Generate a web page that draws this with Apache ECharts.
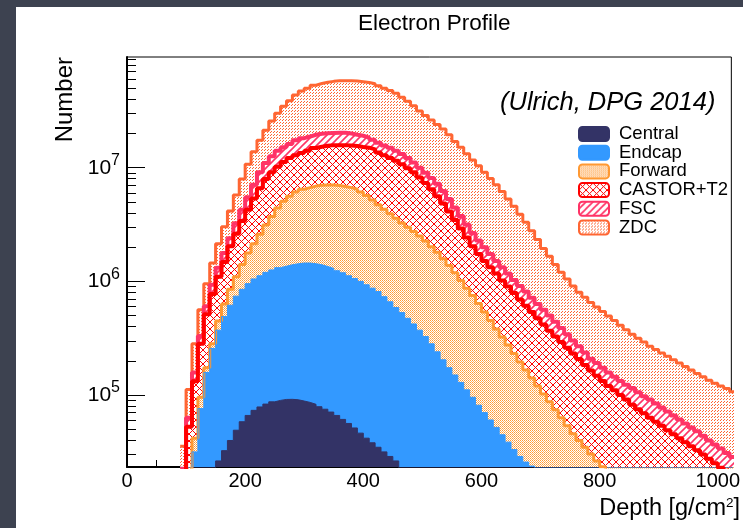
<!DOCTYPE html>
<html>
<head>
<meta charset="utf-8">
<script src="https://cdn.jsdelivr.net/npm/echarts@6/dist/echarts.min.js"></script>
<style>
html,body{margin:0;padding:0;background:#3d4250;width:743px;height:528px;overflow:hidden;}
#panel{position:absolute;left:16px;top:7px;width:727px;height:521px;background:#fff;}
#c{position:absolute;left:0;top:0;width:743px;height:528px;}
</style>
</head>
<body>
<div id="panel"></div>
<div id="c"></div>
<script>
// ---- data: bin lower edges start at binStart, width binWidth (g/cm^2) ----
const binStart = 90;
const binWidth = 10;

const central = [
  0, 0, 0, 0, 0, 0, 2.63e4, 3.24e4, 3.98e4, 4.90e4,
  5.82e4, 6.61e4, 7.33e4, 7.85e4, 8.32e4, 8.71e4, 8.97e4, 9.14e4, 9.16e4, 9.08e4,
  8.85e4, 8.61e4, 8.28e4, 7.89e4, 7.50e4, 7.08e4, 6.61e4, 6.10e4, 5.62e4, 5.13e4,
  4.62e4, 4.17e4, 3.80e4, 3.47e4, 3.16e4, 2.88e4, 2.63e4, 0, 0, 0,
  0, 0, 0, 0, 0, 0, 0, 0, 0, 0,
  0, 0, 0, 0, 0, 0, 0, 0, 0, 0,
  0, 0, 0, 0, 0, 0, 0, 0, 0, 0,
  0, 0, 0, 0, 0, 0, 0, 0, 0, 0,
  0, 0, 0, 0, 0, 0, 0, 0, 0, 0,
  0, 0, 0, 0
];
const endcap = [
  0, 0, 3.16e4, 7.59e4, 1.58e5, 2.57e5, 3.72e5, 4.90e5, 6.17e5, 7.41e5,
  8.51e5, 9.55e5, 1.05e6, 1.12e6, 1.20e6, 1.26e6, 1.32e6, 1.36e6, 1.40e6, 1.43e6,
  1.45e6, 1.45e6, 1.43e6, 1.40e6, 1.35e6, 1.30e6, 1.24e6, 1.19e6, 1.12e6, 1.06e6,
  1.00e6, 9.33e5, 8.71e5, 8.13e5, 7.33e5, 6.61e5, 5.89e5, 5.31e5, 4.73e5, 4.22e5,
  3.72e5, 3.27e5, 2.82e5, 2.40e5, 2.04e5, 1.74e5, 1.50e5, 1.29e5, 1.11e5, 9.55e4,
  8.13e4, 7.00e4, 6.03e4, 5.19e4, 4.47e4, 3.85e4, 3.31e4, 2.88e4, 2.57e4, 2.37e4,
  0, 0, 0, 0, 0, 0, 0, 0, 0, 0,
  0, 0, 0, 0, 0, 0, 0, 0, 0, 0,
  0, 0, 0, 0, 0, 0, 0, 0, 0, 0,
  0, 0, 0, 0
];
const forward = [
  0, 1.78e4, 4.17e4, 9.55e4, 1.74e5, 2.82e5, 4.47e5, 6.31e5, 8.51e5, 1.10e6,
  1.41e6, 1.78e6, 2.14e6, 2.60e6, 3.13e6, 3.72e6, 4.42e6, 5.07e6, 5.62e6, 6.10e6,
  6.46e6, 6.68e6, 6.89e6, 7.00e6, 7.05e6, 7.03e6, 6.97e6, 6.84e6, 6.68e6, 6.46e6,
  6.10e6, 5.69e6, 5.19e6, 4.73e6, 4.32e6, 3.94e6, 3.59e6, 3.27e6, 2.99e6, 2.75e6,
  2.51e6, 2.26e6, 2.02e6, 1.80e6, 1.58e6, 1.38e6, 1.19e6, 1.02e6, 8.71e5, 7.50e5,
  6.38e5, 5.37e5, 4.52e5, 3.80e5, 3.24e5, 2.75e5, 2.32e5, 1.95e5, 1.66e5, 1.41e5,
  1.20e5, 1.02e5, 8.71e4, 7.41e4, 6.31e4, 5.37e4, 4.57e4, 3.98e4, 3.47e4, 3.02e4,
  2.63e4, 2.34e4, 2.04e4, 1.78e4, 0, 0, 0, 0, 0, 0,
  0, 0, 0, 0, 0, 0, 0, 0, 0, 0,
  0, 0, 0, 0
];
const castor = [
  2.0e4, 5.25e4, 1.32e5, 2.82e5, 5.13e5, 7.76e5, 1.10e6, 1.48e6, 2.04e6, 2.63e6,
  3.39e6, 4.27e6, 5.37e6, 6.61e6, 7.94e6, 9.12e6, 1.02e7, 1.12e7, 1.22e7, 1.29e7,
  1.35e7, 1.41e7, 1.49e7, 1.53e7, 1.56e7, 1.58e7, 1.58e7, 1.58e7, 1.57e7, 1.55e7,
  1.52e7, 1.50e7, 1.45e7, 1.36e7, 1.29e7, 1.22e7, 1.15e7, 1.07e7, 9.89e6, 9.12e6,
  8.22e6, 7.33e6, 6.46e6, 5.62e6, 4.84e6, 4.12e6, 3.47e6, 2.92e6, 2.43e6, 2.04e6,
  1.74e6, 1.51e6, 1.33e6, 1.17e6, 1.02e6, 9.02e5, 7.89e5, 6.92e5, 6.10e5, 5.37e5,
  4.73e5, 4.17e5, 3.67e5, 3.27e5, 2.92e5, 2.60e5, 2.32e5, 2.07e5, 1.84e5, 1.64e5,
  1.48e5, 1.33e5, 1.20e5, 1.10e5, 1.00e5, 9.12e4, 8.22e4, 7.50e4, 6.92e4, 6.31e4,
  5.82e4, 5.37e4, 4.90e4, 4.52e4, 4.17e4, 3.85e4, 3.55e4, 3.27e4, 2.99e4, 2.75e4,
  2.51e4, 2.29e4, 2.09e4, 1.91e4
];
const fsc = [
  2.24e4, 6.31e4, 1.58e5, 3.31e5, 6.03e5, 9.33e5, 1.32e6, 1.78e6, 2.40e6, 3.24e6,
  4.27e6, 5.50e6, 7.08e6, 9.12e6, 1.10e7, 1.26e7, 1.41e7, 1.51e7, 1.62e7, 1.74e7,
  1.82e7, 1.88e7, 1.95e7, 1.99e7, 2.01e7, 2.02e7, 2.03e7, 2.03e7, 2.00e7, 1.95e7,
  1.91e7, 1.84e7, 1.76e7, 1.66e7, 1.57e7, 1.50e7, 1.41e7, 1.32e7, 1.22e7, 1.11e7,
  1.00e7, 9.02e6, 8.13e6, 7.24e6, 6.24e6, 5.31e6, 4.47e6, 3.76e6, 3.16e6, 2.66e6,
  2.29e6, 2.00e6, 1.74e6, 1.51e6, 1.33e6, 1.17e6, 1.03e6, 9.12e5, 8.13e5, 7.16e5,
  6.31e5, 5.62e5, 5.01e5, 4.42e5, 3.89e5, 3.43e5, 3.02e5, 2.69e5, 2.37e5, 2.09e5,
  1.91e5, 1.74e5, 1.58e5, 1.45e5, 1.33e5, 1.23e5, 1.15e5, 1.06e5, 9.77e4, 9.12e4,
  8.41e4, 7.76e4, 7.16e4, 6.61e4, 6.10e4, 5.62e4, 5.19e4, 4.79e4, 4.37e4, 3.98e4,
  3.67e4, 3.39e4, 3.09e4, 2.85e4
];
const zdc = [
  3.55e4, 1.12e5, 2.82e5, 5.62e5, 9.55e5, 1.45e6, 2.14e6, 3.02e6, 4.17e6, 5.75e6,
  7.94e6, 1.07e7, 1.38e7, 1.74e7, 2.14e7, 2.57e7, 3.02e7, 3.47e7, 3.89e7, 4.37e7,
  4.73e7, 5.01e7, 5.31e7, 5.50e7, 5.65e7, 5.75e7, 5.82e7, 5.83e7, 5.82e7, 5.78e7,
  5.71e7, 5.62e7, 5.47e7, 5.25e7, 5.01e7, 4.79e7, 4.52e7, 4.17e7, 3.85e7, 3.51e7,
  3.16e7, 2.88e7, 2.63e7, 2.40e7, 2.19e7, 1.95e7, 1.70e7, 1.51e7, 1.33e7, 1.17e7,
  1.04e7, 9.12e6, 8.04e6, 7.08e6, 6.17e6, 5.31e6, 4.57e6, 3.89e6, 3.31e6, 2.79e6,
  2.34e6, 1.95e6, 1.66e6, 1.41e6, 1.20e6, 1.05e6, 9.12e5, 8.04e5, 7.24e5, 6.53e5,
  5.96e5, 5.43e5, 4.95e5, 4.52e5, 4.12e5, 3.76e5, 3.43e5, 3.16e5, 2.92e5, 2.69e5,
  2.51e5, 2.34e5, 2.19e5, 2.04e5, 1.91e5, 1.78e5, 1.66e5, 1.55e5, 1.45e5, 1.35e5,
  1.27e5, 1.20e5, 1.14e5, 1.07e5
];

const seriesNames = ['Central', 'Endcap', 'Forward', 'CASTOR+T2', 'FSC', 'ZDC'];
const xMajorTicks = [0, 200, 400, 600, 800, 1000];
const xMinorTicks = [50, 100, 150, 250, 300, 350, 450, 500, 550, 650, 700, 750, 850, 900, 950];
const yMajorTicks = [1e5, 1e6, 1e7];
const yMinorTicks = [3e4, 4e4, 5e4, 6e4, 7e4, 8e4, 9e4,
  2e5, 3e5, 4e5, 5e5, 6e5, 7e5, 8e5, 9e5,
  2e6, 3e6, 4e6, 5e6, 6e6, 7e6, 8e6, 9e6,
  2e7, 3e7, 4e7, 5e7, 6e7, 7e7, 8e7, 9e7];
const xMin = 0, xMax = 1023;
const yMin = 2.326e4, yMax = 9.42e7;

// ---- styling ----
const FONT = '"Liberation Sans", Arial, Helvetica, sans-serif';
const COL = {
  central: '#333366', endcap: '#3399ff', forward: '#ff9933',
  castor: '#ff0000', fsc: '#ff3366', zdc: '#ff6633'
};

function makePattern(kind, color, color2) {
  const c = document.createElement('canvas');
  const s = kind === 'dots' ? 3 : kind === 'checker' ? 2 : 7;
  c.width = s; c.height = s;
  const g = c.getContext('2d');
  g.fillStyle = '#ffffff'; g.fillRect(0, 0, s, s);
  g.fillStyle = color; g.strokeStyle = color;
  if (kind === 'dots') {
    g.fillRect(0, 0, 1, 1); g.fillRect(1, 2, 1, 1);
  } else if (kind === 'checker') {
    g.fillRect(0, 0, 1, 1);
    g.fillStyle = color2; g.fillRect(1, 1, 1, 1);
  } else if (kind === 'hatch') {
    g.lineWidth = 1.6;
    g.beginPath();
    g.moveTo(0, s); g.lineTo(s, 0);
    g.moveTo(-2, 2); g.lineTo(2, -2);
    g.moveTo(s - 2, s + 2); g.lineTo(s + 2, s - 2);
    g.stroke();
  } else if (kind === 'cross') {
    g.lineWidth = 1;
    g.beginPath();
    g.moveTo(0, s); g.lineTo(s, 0);
    g.moveTo(0, 0); g.lineTo(s, s);
    g.stroke();
  }
  return { image: c, repeat: 'repeat' };
}

const FILL = {
  central: COL.central,
  endcap: COL.endcap,
  forward: makePattern('checker', COL.forward, '#ffb366'),
  castor: makePattern('cross', COL.castor),
  fsc: makePattern('hatch', COL.fsc),
  zdc: makePattern('dots', COL.zdc)
};

function toPoints(vals) {
  const pts = [];
  const below = Math.log10(yMin) - 1.5;
  for (let i = 0; i < vals.length; i++) {
    pts.push([binStart + i * binWidth, vals[i] > 0 ? Math.log10(vals[i]) : below]);
  }
  const last = vals[vals.length - 1];
  pts.push([binStart + vals.length * binWidth, last > 0 ? Math.log10(last) : below]);
  return pts;
}

function mkSeries(name, vals, color, width, fill) {
  return {
    type: 'line', name: name, data: toPoints(vals), step: 'end',
    symbol: 'none', showSymbol: false, clip: true, silent: true,
    lineStyle: { color: color, width: width },
    itemStyle: { color: color },
    areaStyle: { color: fill, opacity: 1, origin: 'start' },
    emphasis: { disabled: true }
  };
}

const chart = echarts.init(document.getElementById('c'), null, { renderer: 'canvas' });

const legendStyle = {
  'Central': { fill: FILL.central, stroke: COL.central },
  'Endcap': { fill: FILL.endcap, stroke: COL.endcap },
  'Forward': { fill: FILL.forward, stroke: COL.forward },
  'CASTOR+T2': { fill: FILL.castor, stroke: COL.castor },
  'FSC': { fill: FILL.fsc, stroke: COL.fsc },
  'ZDC': { fill: FILL.zdc, stroke: COL.zdc }
};

const option = {
  animation: false,
  backgroundColor: 'transparent',
  textStyle: { fontFamily: FONT },
  title: [
    { text: 'Electron Profile', left: 358, top: 12.5, padding: 0,
      textStyle: { fontSize: 22.5, lineHeight: 22.5, fontWeight: 'normal', color: '#000', fontFamily: FONT } },
    { text: '(Ulrich, DPG 2014)', left: 500, top: 90, padding: 0,
      textStyle: { fontSize: 25.5, lineHeight: 25.5, fontWeight: 'normal', fontStyle: 'italic', color: '#000', fontFamily: FONT } },
    { text: '{a|Depth [g/cm}{s|2}{a|]}', right: 3, top: 496, padding: 0,
      textStyle: { fontWeight: 'normal', rich: {
        a: { fontSize: 23.5, lineHeight: 26, fontWeight: 'normal', color: '#000', fontFamily: FONT },
        s: { fontSize: 13.5, lineHeight: 20, fontWeight: 'normal', verticalAlign: 'top', color: '#000', fontFamily: FONT }
      } } }
  ],
  graphic: [
    { type: 'text', x: 65.7, y: 57, rotation: Math.PI / 2, silent: true,
      style: { text: 'Number', fontSize: 24, fontFamily: FONT, fill: '#000',
        align: 'right', verticalAlign: 'middle', textAlign: 'right', textVerticalAlign: 'middle' } }
  ],
  legend: {
    orient: 'vertical', left: 563, top: 122.5, padding: [2, 5, 4, 15],
    itemWidth: 30, itemHeight: 14, itemGap: -0.3,
    icon: 'roundRect', selectedMode: false,
    textStyle: { fontSize: 18.5, lineHeight: 14, color: '#000', fontFamily: FONT, padding: [0, 0, 0, 5] },
    data: seriesNames.map(n => ({
      name: n, icon: 'roundRect',
      itemStyle: { color: legendStyle[n].fill, borderColor: legendStyle[n].stroke, borderWidth: 2 }
    }))
  },
  grid: { left: 127, right: 2, top: 57, bottom: 61, show: true, borderColor: '#000', borderWidth: 1, containLabel: false },
  xAxis: [
    { type: 'value', position: 'bottom', min: xMin, max: xMax,
      axisLine: { show: true, onZero: false, lineStyle: { color: '#000', width: 2 } },
      axisTick: { show: true, inside: true, length: 14, customValues: xMajorTicks, lineStyle: { color: '#000', width: 1 } },
      axisLabel: { show: true, customValues: xMajorTicks, margin: 4, fontSize: 20, color: '#000', fontFamily: FONT,
        formatter: v => String(Math.round(v)) },
      splitLine: { show: false } },
    { type: 'value', position: 'bottom', min: xMin, max: xMax,
      axisLine: { show: false },
      axisTick: { show: true, inside: true, length: 7, customValues: xMinorTicks, lineStyle: { color: '#000', width: 1 } },
      axisLabel: { show: false }, splitLine: { show: false } }
  ],
  yAxis: [
    { type: 'value', position: 'left', min: Math.log10(yMin), max: Math.log10(yMax),
      axisLine: { show: true, onZero: false, lineStyle: { color: '#000', width: 2 } },
      axisTick: { show: true, inside: true, length: 18, customValues: yMajorTicks.map(v => Math.log10(v)), lineStyle: { color: '#000', width: 1 } },
      axisLabel: { show: true, customValues: yMajorTicks.map(v => Math.log10(v)), margin: 7,
        formatter: v => '{b|10}{s|' + Math.round(v) + '}',
        rich: {
          b: { fontSize: 21, lineHeight: 30, color: '#000', fontFamily: FONT },
          s: { fontSize: 16, lineHeight: 16, verticalAlign: 'top', color: '#000', fontFamily: FONT }
        } },
      splitLine: { show: false } },
    { type: 'value', position: 'left', min: Math.log10(yMin), max: Math.log10(yMax),
      axisLine: { show: false },
      axisTick: { show: true, inside: true, length: 9, customValues: yMinorTicks.map(v => Math.log10(v)), lineStyle: { color: '#000', width: 1 } },
      axisLabel: { show: false }, splitLine: { show: false } }
  ],
  series: [
    mkSeries('ZDC', zdc, COL.zdc, 3, FILL.zdc),
    mkSeries('FSC', fsc, COL.fsc, 4, FILL.fsc),
    mkSeries('CASTOR+T2', castor, COL.castor, 4, FILL.castor),
    mkSeries('Forward', forward, COL.forward, 3, FILL.forward),
    mkSeries('Endcap', endcap, COL.endcap, 1, FILL.endcap),
    mkSeries('Central', central, COL.central, 1, FILL.central)
  ]
};
chart.setOption(option);
</script>
</body>
</html>
